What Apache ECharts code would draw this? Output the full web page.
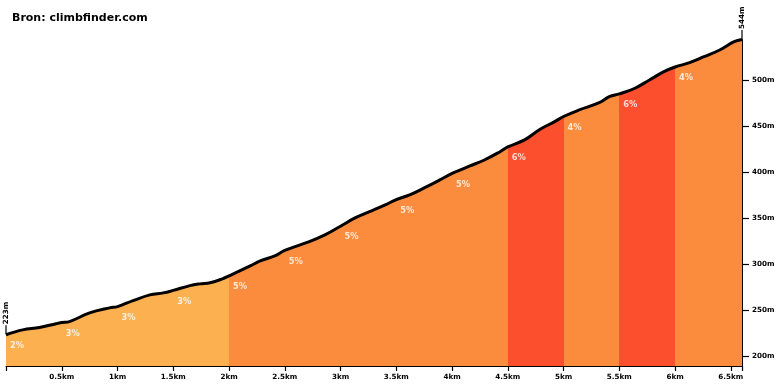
<!DOCTYPE html>
<html>
<head>
<meta charset="utf-8">
<script src="https://cdn.jsdelivr.net/npm/echarts@6/dist/echarts.min.js"></script>
<style>html,body{margin:0;padding:0;background:#fff}#c{width:780px;height:390px}</style>
</head>
<body>
<div id="c"></div>
<script>
// distance (km) along the climb
const dist = [0, 0.15, 0.3, 0.45, 0.5, 0.57, 0.75, 0.93, 1.0, 1.14, 1.29, 1.41, 1.5, 1.65, 1.74, 1.83, 1.94, 2.0, 2.19, 2.28, 2.41, 2.5, 2.72, 2.86, 3.0, 3.13, 3.26, 3.4, 3.5, 3.62, 3.75, 3.89, 4.0, 4.16, 4.29, 4.43, 4.5, 4.65, 4.79, 4.92, 5.0, 5.14, 5.32, 5.41, 5.5, 5.64, 5.77, 5.9, 6.0, 6.13, 6.26, 6.4, 6.53, 6.6];
// elevation (m)
const elev = [223, 228.3, 230.8, 235, 236.2, 237.3, 246.7, 252.2, 253.6, 260.1, 266.3, 268.5, 271.2, 276.4, 278.3, 279.5, 283.7, 287, 297.8, 303.3, 308.7, 314.7, 324.2, 331.5, 341, 350, 356.8, 364.1, 370, 375, 382.6, 391.3, 398.4, 406.5, 413, 422, 427.2, 434.8, 446.4, 454.7, 460.3, 467.4, 475.3, 481.8, 484.8, 491, 500, 509, 514.1, 518.8, 525.3, 532.6, 541.6, 544];
// segment starts (km) and gradients (%)
const segStart = [0, 0.5, 1.0, 1.5, 2.0, 2.5, 3.0, 3.5, 4.0, 4.5, 5.0, 5.5, 6.0];
const segEnd   = [0.5, 1.0, 1.5, 2.0, 2.5, 3.0, 3.5, 4.0, 4.5, 5.0, 5.5, 6.0, 6.6];
const grade    = [2, 3, 3, 3, 5, 5, 5, 5, 5, 6, 4, 6, 4];
const yTicks = [200, 250, 300, 350, 400, 450, 500];
const title = 'Bron: climbfinder.com';

function colorFor(g) {
  if (g <= 3) return '#fcb04f';
  if (g <= 5) return '#fb8c3d';
  return '#fc4f2d';
}
const FONT = 'DejaVu Sans';
const profile = dist.map((d, i) => [d, elev[i]]);
const pieces = segStart.map((s, i) => ({ gte: s, lt: segEnd[i] + (i === segStart.length - 1 ? 0.001 : 0), color: colorFor(grade[i]) }));
const labelData = segStart.map((s, i) => {
  const k = dist.indexOf(s);
  return [s, elev[k], grade[i]];
});

const chart = echarts.init(document.getElementById('c'), null, { renderer: 'canvas' });
chart.setOption({
  backgroundColor: '#fff',
  animation: false,
  title: {
    text: title, left: 7, top: 8,
    textStyle: { fontFamily: FONT, fontSize: 11, fontWeight: 'bold', color: '#000' }
  },
  grid: { left: 6, right: 38, top: 39.5, bottom: 24, containLabel: false },
  xAxis: {
    type: 'value', min: 0, max: 6.6, interval: 0.5,
    axisLine: { show: true, onZero: false, lineStyle: { color: '#000', width: 1 } },
    axisTick: { show: true, length: 5, lineStyle: { color: '#000', width: 1.2 } },
    splitLine: { show: false },
    axisLabel: {
      margin: 8, fontFamily: FONT, fontSize: 7.2, fontWeight: 'bold', color: '#000',
      formatter: v => (v === 0 || Math.abs(v * 2 - Math.round(v * 2)) > 1e-6) ? '' : (+v.toFixed(1)) + 'km'
    }
  },
  yAxis: {
    type: 'value', position: 'right', min: 189, max: 544,
    axisLine: { show: true, onZero: false, lineStyle: { color: '#000', width: 1 } },
    axisTick: { show: true, length: 7, customValues: yTicks, lineStyle: { color: '#000', width: 1.2 } },
    splitLine: { show: false },
    axisLabel: {
      margin: 10, customValues: yTicks, fontFamily: FONT, fontSize: 7.2, fontWeight: 'bold', color: '#000',
      formatter: v => v + 'm'
    }
  },
  visualMap: {
    show: false, type: 'piecewise', dimension: 0, seriesIndex: 0,
    pieces: pieces
  },
  series: [
    {
      type: 'line', data: profile, smooth: 0.4, symbol: 'none', z: 3,
      lineStyle: { color: '#000', width: 3 },
      areaStyle: { opacity: 1 },
      markPoint: {
        symbol: 'rect', symbolSize: [1.2, 9], symbolOffset: [0, -5],
        itemStyle: { color: '#000' },
        label: {
          show: true, position: 'top', rotate: 90, align: 'left', verticalAlign: 'middle', distance: 1,
          fontFamily: FONT, fontSize: 7.2, fontWeight: 'bold', color: '#000',
          formatter: p => p.value + 'm'
        },
        data: [
          { coord: [dist[0], elev[0]], value: elev[0] },
          { coord: [dist[dist.length - 1], elev[elev.length - 1]], value: elev[elev.length - 1] }
        ]
      }
    },
    {
      type: 'scatter', data: labelData, symbolSize: 0, z: 5, silent: true,
      label: {
        show: true, position: 'inside', offset: [4, 11], align: 'left', verticalAlign: 'middle',
        fontFamily: FONT, fontSize: 8.3, fontWeight: 'bold', color: '#fff',
        formatter: p => p.value[2] + '%'
      }
    }
  ]
});
</script>
</body>
</html>
